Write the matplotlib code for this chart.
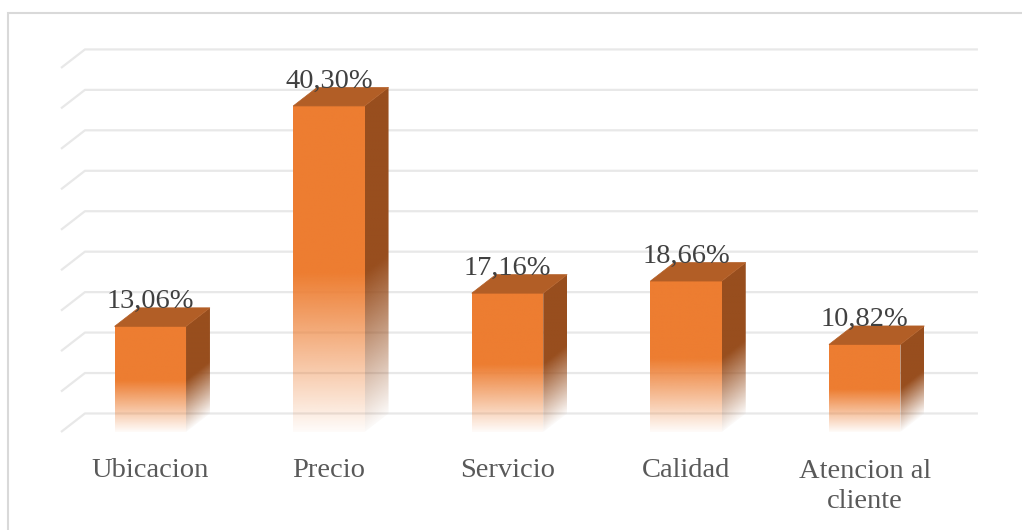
import matplotlib.pyplot as plt
import numpy as np
from matplotlib.patches import Polygon, Rectangle

categories = ["Ubicacion", "Precio", "Servicio", "Calidad", "Atencion al\ncliente"]
values = [13.06, 40.30, 17.16, 18.66, 10.82]
value_labels = ["13,06%", "40,30%", "17,16%", "18,66%", "10,82%"]
grid_ticks = list(range(0, 50, 5))

FRONT = np.array([237, 125, 49]) / 255
SIDE = np.array([152, 78, 30]) / 255
TOP = np.array([178, 94, 38]) / 255
GRID = "#e8e8e8"

HALF_W = 0.2              # half of the bar's front width (category units)
DX, DY = 0.134, 2.29      # depth offset of the pseudo-3d box
PX_X, PX_Y = 178.6, 8.09  # pixels per category / per percentage point

plt.rcParams["font.family"] = ["Liberation Serif", "DejaVu Serif"]

fig = plt.figure(figsize=(10.22, 5.30), dpi=100)
ax = fig.add_axes([0, 0, 1, 1])
ax.axis("off")


def fade(y_rel):
    # solid on the upper half, fading out toward the floor
    return np.clip(0.03 + y_rel / 0.5, 0, 1)


def gradient_face(ax, poly, color, extent, alpha):
    rgba = np.zeros(alpha.shape + (4,))
    rgba[..., :3] = color
    rgba[..., 3] = alpha
    im = ax.imshow(rgba, extent=extent, origin="lower", aspect="auto",
                   interpolation="bilinear", zorder=3)
    clip = Polygon(poly, closed=True, facecolor="none", edgecolor="none")
    ax.add_patch(clip)
    im.set_clip_path(clip)


# back wall gridlines with the little diagonal on the left
n = len(categories)
x_left, x_right = -0.5, n - 0.5
for g in grid_ticks:
    ax.plot([x_left, x_left + DX, x_right + DX], [g, g + DY, g + DY],
            color=GRID, lw=1.6, zorder=1, solid_capstyle="butt")

for i, v in enumerate(values):
    x0, x1 = i - HALF_W, i + HALF_W

    # front face
    ny = 200
    yy = np.linspace(0, 1, ny)[:, None]
    gradient_face(ax, [(x0, 0), (x1, 0), (x1, v), (x0, v)], FRONT,
                  (x0, x1, 0, v), fade(yy))

    # right side face, fade follows the slanted floor edge
    nx = 40
    xs = np.linspace(x1, x1 + DX, nx)
    ys = np.linspace(0, v + DY, ny)
    X, Y = np.meshgrid(xs, ys)
    y_front = Y - (X - x1) / DX * DY
    side_poly = [(x1, 0), (x1 + DX, DY), (x1 + DX, v + DY), (x1, v)]
    gradient_face(ax, side_poly, SIDE, (x1, x1 + DX, 0, v + DY),
                  fade(np.clip(y_front / v, 0, 1)))

    # top face
    ax.add_patch(Polygon([(x0, v), (x1, v), (x1 + DX, v + DY), (x0 + DX, v + DY)],
                         closed=True, facecolor=TOP, edgecolor=TOP, lw=0.5, zorder=4))

    ax.text(i, v + DY, value_labels[i], ha="center", va="baseline",
            fontsize=20.5, color="#404040", zorder=5)

    # multi-line labels: baseline alignment goes to the last line
    extra = categories[i].count("\n")
    ax.text(i, (-45 - 31 * extra) / PX_Y, categories[i], ha="center", va="baseline",
            fontsize=20.5, color="#595959", linespacing=1.24, zorder=5)

ax.set_xlim(-0.5 - 61 / PX_X, 4.5 + 68 / PX_X)
ax.set_ylim(-98 / PX_Y, 432 / PX_Y)

fig.add_artist(Rectangle((8 / 1022, -0.05), 1.1, (530 - 13) / 530 + 0.05,
                         transform=fig.transFigure, facecolor="none",
                         edgecolor="#d9d9d9", lw=1.5))

fig.savefig("out.png", dpi=100)
